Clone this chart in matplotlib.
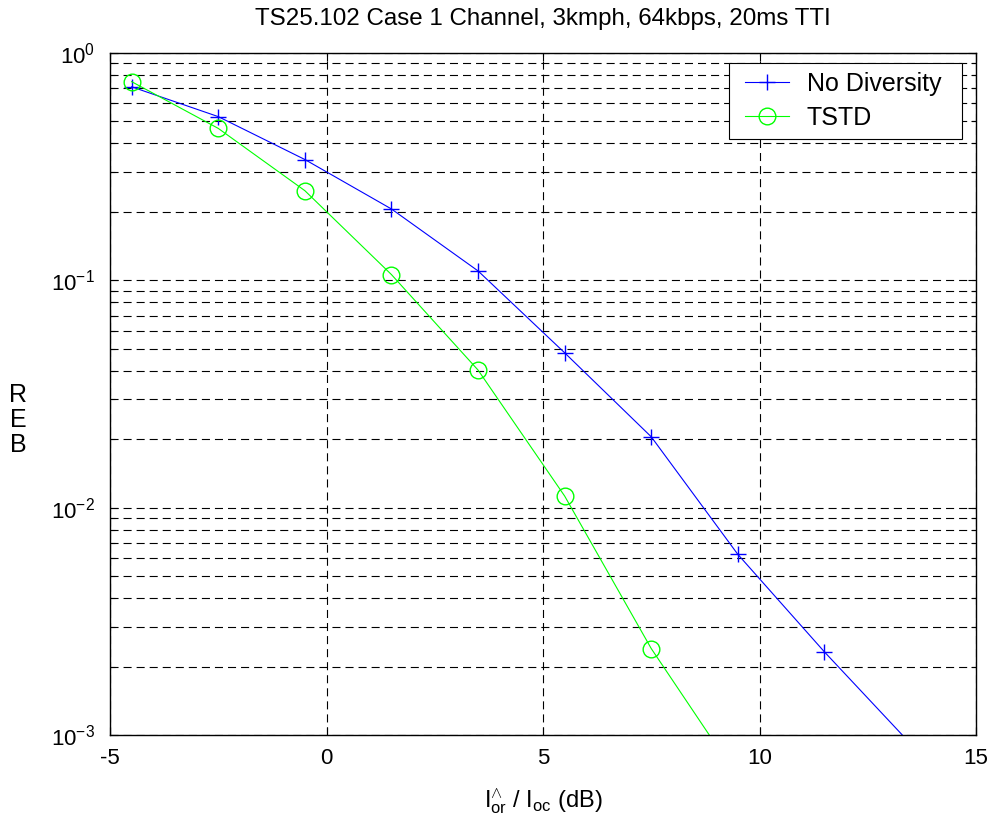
import numpy as np
import matplotlib
matplotlib.use('Agg')
import matplotlib.pyplot as plt
from matplotlib.patches import Rectangle
from matplotlib.ticker import LogLocator, FixedLocator, NullFormatter
from matplotlib.transforms import IdentityTransform

plt.rcParams['font.family'] = ['Liberation Sans', 'DejaVu Sans']
plt.rcParams['mathtext.fontset'] = 'custom'
plt.rcParams['mathtext.rm'] = 'Liberation Sans'
plt.rcParams['mathtext.it'] = 'Liberation Sans'
plt.rcParams['axes.unicode_minus'] = False
plt.rcParams['lines.scale_dashes'] = False

# Ior/Ioc in dB and block error rate for each scheme
snr_db = [-4.5, -2.5, -0.5, 1.5, 3.5, 5.5, 7.5, 9.5, 11.5, 13.5]
bler_no_div = [0.71, 0.525, 0.340, 0.206, 0.110, 0.0480, 0.0205, 0.00623, 0.00232, 0.00091]
snr_db_tstd = [-4.5, -2.5, -0.5, 1.5, 3.5, 5.5, 7.5, 9.5]
bler_tstd = [0.748, 0.466, 0.248, 0.106, 0.0403, 0.01125, 0.00240, 0.00065]

xticks = [-5, 0, 5, 10, 15]

W, H = 995, 825
fig = plt.figure(figsize=(W / 100, H / 100), dpi=100)
ax = fig.add_axes([110 / W, 1 - 735 / H, 866 / W, 682 / H])

ax.semilogy(snr_db, bler_no_div, '-+', color=(0, 0, 1), lw=0.8, ms=12, mew=1.0,
            label='No Diversity')
ax.semilogy(snr_db_tstd, bler_tstd, '-o', color=(0, 1, 0), lw=0.8, ms=12, mew=1.0,
            mfc='none', label='TSTD')

ax.set_xlim(-5, 15)
ax.set_ylim(1e-3, 1)
ax.xaxis.set_major_locator(FixedLocator(xticks))
ax.yaxis.set_major_locator(LogLocator(base=10))
ax.yaxis.set_minor_locator(LogLocator(base=10, subs=np.arange(2, 10)))
ax.yaxis.set_minor_formatter(NullFormatter())

grid_kw = dict(color='black', lw=0.8, linestyle=(0, (5.8, 3.6)))
ax.grid(True, which='major', axis='both', **grid_kw)
ax.grid(True, which='minor', axis='y', **grid_kw)

ax.tick_params(which='both', direction='in', top=True, right=True, labelsize=16,
               width=0.8, color='black')
ax.tick_params(which='major', length=6)
ax.tick_params(which='minor', length=3.5)
ax.tick_params(axis='y', pad=11)
ax.tick_params(axis='x', pad=9)
for s in ax.spines.values():
    s.set_linewidth(1.0)

ax.set_title('TS25.102 Case 1 Channel, 3kmph, 64kbps, 20ms TTI', fontsize=17.4, pad=20)

renderer = fig.canvas.get_renderer()

# x label: I-hat over I-oc, the hat written as a caret superscript
fig.text(0.5 * (110 + 976) / W, 1 - 807 / H,
         'I$^{\\wedge}_{\\mathregular{or}}$ / I$_{\\mathregular{oc}}$ (dB)',
         fontsize=17, ha='center', va='baseline')

# y label letters drawn upright and stacked
for letter, ypx in zip(['B', 'E', 'R'], [452, 427, 402]):
    fig.text(18 / W, 1 - ypx / H, letter, fontsize=18, ha='center', va='baseline')

leg = ax.legend(loc='upper right', bbox_to_anchor=(0.970, 0.985), fontsize=18,
                frameon=False, borderaxespad=0, handlelength=1.76, handletextpad=0.7,
                borderpad=0.35, labelspacing=0.4)
lb = leg.get_window_extent(renderer)
frame = Rectangle((lb.x0 - 8, lb.y0), lb.width + 20, lb.height, transform=IdentityTransform(),
                  facecolor='white', edgecolor='black', lw=0.8, zorder=4.9, clip_on=False)
ax.add_artist(frame)

fig.savefig('out.png', dpi=100)
